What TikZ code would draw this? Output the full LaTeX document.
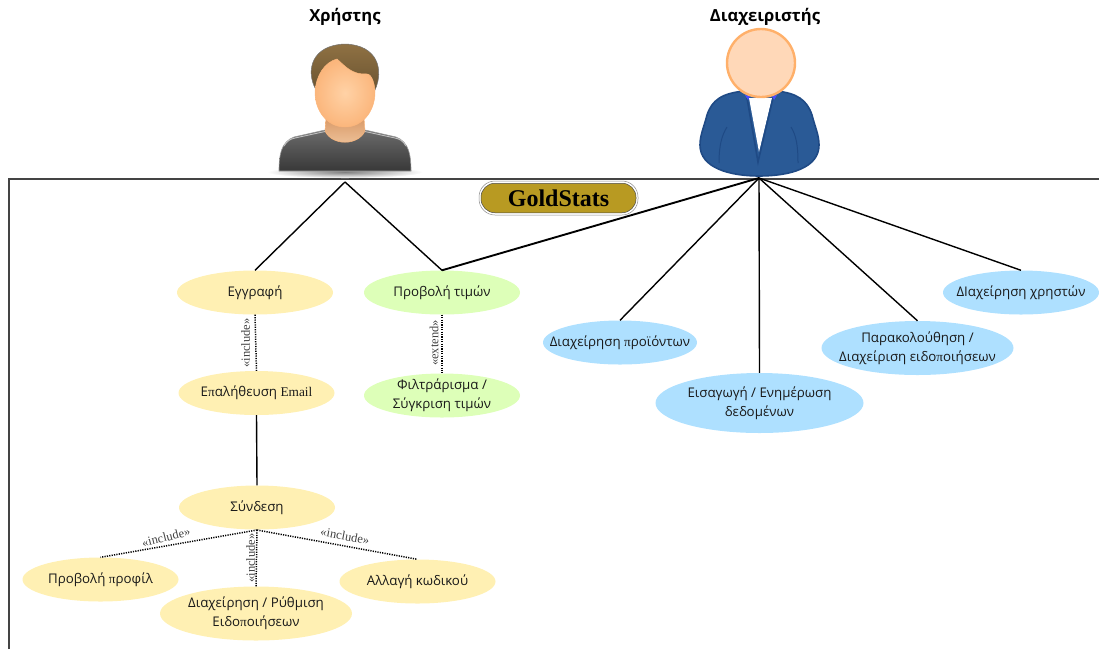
\documentclass[tikz,border=0pt]{standalone}
\usepackage{fontspec}
\setmainfont{Open Sans}
\newfontfamily\serifgr{Liberation Serif}
\usetikzlibrary{shapes.geometric,shadings,fadings}
\definecolor{ucyellow}{HTML}{FFF0B3}
\definecolor{ucgreen}{HTML}{DDFFB8}
\definecolor{ucblue}{HTML}{AEE0FF}
\definecolor{framec}{HTML}{444444}
\definecolor{gold}{HTML}{B89A22}
\definecolor{suit}{HTML}{2A5A96}
\definecolor{suitline}{HTML}{1F4A85}
\definecolor{hairtop}{HTML}{8F7143}
\definecolor{hairbot}{HTML}{6B5431}
\definecolor{headline}{HTML}{FFB06A}
\definecolor{headfill}{HTML}{FFD8B8}
\definecolor{skinlight}{HTML}{FFD2A6}
\definecolor{skindark}{HTML}{FBB67C}
\definecolor{necktop}{HTML}{D99A68}
\definecolor{neckbot}{HTML}{EFC49C}
\newcommand{\spi}{{\serifgr π}}
\tikzset{
  uc/.style={ellipse,inner xsep=-40pt,inner ysep=-20pt,align=center,font=\fontsize{13.3}{19.3}\selectfont,text=black!90},
  ucs/.style={uc,minimum width=156pt,minimum height=44pt},
  ucm/.style={uc,minimum width=192pt,minimum height=54pt},
  ucl/.style={uc,minimum width=208pt,minimum height=60pt},
  assoc/.style={draw=black,line width=1.4pt},
  dep/.style={draw=black,line width=1.5pt,dash pattern=on 1.2pt off 1.2pt},
  stereo/.style={font=\serifgr\fontsize{12.5}{14}\selectfont,text=black!75,inner sep=0pt},
  actor/.style={font=\bfseries\fontsize{16.6}{18}\selectfont,inner sep=0pt}
}
\begin{document}
\begin{tikzpicture}[x=1pt,y=-1pt]
\useasboundingbox (0,0) rectangle (1099,649);
% frame
\draw[framec,line width=1.5pt] (9,649) -- (9,179) -- (1099,179);
% user actor
\node[actor] (userlabel) at (345,17) {Χρήστης};
\path[inner color=black!50,outer color=white] (345,172) ellipse [x radius=78pt,y radius=6pt];
\path[top color=black!58,bottom color=black!78,draw=black!40,line width=.6pt]
  (279,171) .. controls (279,155) and (281,142) .. (294,137) -- (325,130) -- (365,130) -- (396,137)
  .. controls (409,142) and (411,155) .. (411,171) -- cycle;
\draw[black!25,line width=.9pt] (284,146) .. controls (287,141) and (290,139) .. (295,138) -- (325,131.5);
\draw[black!25,line width=.9pt] (406,146) .. controls (403,141) and (400,139) .. (395,138) -- (365,131.5);
\path[top color=necktop,bottom color=neckbot,draw=skindark,line width=.5pt]
  (326,118) -- (364,118) -- (365,131) .. controls (358,146) and (332,146) .. (325,131) -- cycle;
\path[top color=hairtop,bottom color=hairbot,draw=black!55,line width=.5pt]
  (316,90) .. controls (305,70) and (312,45) .. (345,44) .. controls (378,45) and (384,70) .. (375,90) -- cycle;
\path[inner color=skinlight,outer color=skindark,draw=skindark,line width=.5pt]
  (315,92) .. controls (316,75) and (325,62) .. (337,59) .. controls (345,66) and (352,75) .. (367,74)
  .. controls (372,74) and (375,85) .. (375,92) .. controls (375,112) and (362,127) .. (345,127)
  .. controls (328,127) and (315,112) .. (315,92) -- cycle;
% admin actor
\node[actor] (adminlabel) at (765,17) {Διαχειριστής};
\draw[suitline,fill=suit,line width=1.6pt]
  (745,91) .. controls (722,93) and (712,100) .. (707,115) .. controls (704,127) and (700,135) .. (700,145)
  .. controls (700,168) and (730,176) .. (759,176) .. controls (790,176) and (819,168) .. (819,145)
  .. controls (819,135) and (815,127) .. (812,115) .. controls (807,100) and (797,93) .. (776,91) -- cycle;
\fill[white] (749,98) -- (772,98) -- (759,152) -- cycle;
\draw[suitline,line width=1.6pt] (747,98) -- (758,162) -- (773,98);
\fill[blue!70!white] (745,95) -- (750,96) -- (748,100) -- cycle (777,95) -- (772,96) -- (774,100) -- cycle;
\draw[suitline,line width=1pt] (719,163) .. controls (719,145) and (722,135) .. (727,127);
\draw[suitline,line width=1pt] (798,163) .. controls (798,145) and (796,135) .. (791,127);
\draw[draw=headline,fill=headfill,line width=2.4pt] (761,63) circle (34pt);
% title
\draw[black!45,fill=white,line width=.5pt,rounded corners=16pt] (479,181) rectangle (638,215);
\node[draw=black!70,fill=gold,line width=.5pt,rounded corners=14pt,minimum width=155pt,minimum height=29.5pt,inner sep=0pt,
      font=\serifgr\bfseries\fontsize{24}{26}\selectfont] (title) at (558.5,198) {GoldStats};
% use cases
\node[ucs,fill=ucyellow] (reg) at (255,292.5) {Εγγραφή};
\node[ucs,fill=ucgreen] (prices) at (442,292.5) {Προβολή τιμών};
\node[ucs,fill=ucyellow] (verify) at (256.5,393) {Ε\spi αλήθευση {\serifgr Email}};
\node[ucs,fill=ucgreen] (filter) at (442,395.5) {Φιλτράρισμα /\\Σύγκριση τιμών};
\node[ucs,fill=ucyellow] (login) at (257,507.5) {Σύνδεση};
\node[ucs,fill=ucyellow] (profile) at (100.5,579.5) {Προβολή \spi ροφίλ};
\node[ucs,fill=ucyellow] (password) at (417.5,581.5) {Αλλαγή κωδικού};
\node[ucm,fill=ucyellow] (notifset) at (256,613.5) {Διαχείρηση / Ρύθμιση\\Ειδο\spi οιήσεων};
\node[ucs,fill=ucblue,minimum width=154pt] (products) at (620,342.5) {Διαχείρηση \spi ροϊόντων};
\node[ucl,fill=ucblue] (data) at (759.5,403) {Εισαγωγή / Ενημέρωση\\δεδομένων};
\node[ucm,fill=ucblue] (notifmon) at (917.5,348) {Παρακολούθηση /\\Διαχείριση ειδο\spi οιήσεων};
\node[ucs,fill=ucblue] (users) at (1021,292.5) {ΔΙαχείρηση χρηστών};
% junction points
\coordinate (userfoot) at (345,182);
\coordinate (adminfoot) at (759,178);
\coordinate (loginfoot) at (257,530);
% associations
\draw[assoc] (userfoot) -- (reg.north);
\draw[assoc] (userfoot) -- (prices.north);
\draw[assoc,line width=1.9pt] (adminfoot) -- (prices.north);
\draw[assoc] (adminfoot) -- (products.north);
\draw[assoc] (adminfoot) -- (data.north);
\draw[assoc] (adminfoot) -- (notifmon.north);
\draw[assoc] (adminfoot) -- (users.north);
\draw[assoc] (verify.south) -- (login.north);
% dependencies
\draw[dep] (reg.south) -- (verify.north);
\draw[dep] (prices.south) -- (filter.north);
\draw[dep] (loginfoot) -- (profile.north);
\draw[dep] (loginfoot) -- (notifset.north);
\draw[dep] (loginfoot) -- (password.north);
% stereotypes
\node[stereo,rotate=90] (s1) at (245.5,343) {«include»};
\node[stereo,rotate=90] (s2) at (434,343) {«extend»};
\node[stereo,rotate=14] (s3) at (166,537) {«include»};
\node[stereo,rotate=90] (s4) at (250.5,558) {«include»};
\node[stereo,rotate=-11] (s5) at (345,536) {«include»};
\end{tikzpicture}
\end{document}
